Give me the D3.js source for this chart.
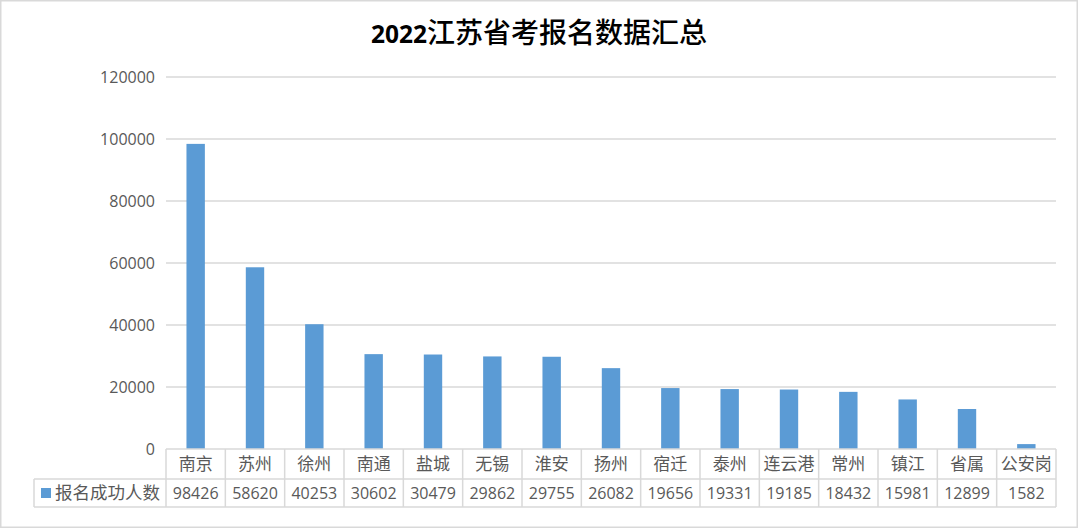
<!DOCTYPE html>
<html><head><meta charset="utf-8">
<script src="https://cdn.jsdelivr.net/npm/d3@7"></script>
<style>
html,body{margin:0;padding:0;background:#fff;}
svg{display:block;}
text{font-family:"Open Sans","Noto Sans CJK SC",sans-serif;}
</style></head>
<body><div id="chart"></div>
<script>
const categories = ["南京","苏州","徐州","南通","盐城","无锡","淮安","扬州","宿迁","泰州","连云港","常州","镇江","省属","公安岗"];
const values = [98426,58620,40253,30602,30479,29862,29755,26082,19656,19331,19185,18432,15981,12899,1582];
const yTicks = [0,20000,40000,60000,80000,100000,120000];
const seriesName = "报名成功人数";
const title = ["2022","江苏省考报名数据汇总"];

const W = 1080, H = 530;
const mLeft = 166, mRight = 1056, mTop = 77, mBottom = 449;
const grey = "#595959", lineC = "#d9d9d9", barC = "#5b9bd5";

const svg = d3.select("#chart").append("svg").attr("width", W).attr("height", H);

svg.append("rect").attr("x",0.75).attr("y",0.75).attr("width",1076.5).attr("height",526.5)
  .attr("fill","#fff").attr("stroke",lineC).attr("stroke-width",1.5);

const t = svg.append("text").attr("x",539).attr("y",43).attr("text-anchor","middle").attr("fill","#000");
t.append("tspan").attr("font-size",24.5).attr("font-weight",700).text(title[0]);
t.append("tspan").attr("font-size",28).attr("font-weight",500).attr("font-family","Noto Sans CJK SC").text(title[1]);

const x = d3.scaleBand().domain(categories).range([mLeft,mRight]).padding(0);
const y = d3.scaleLinear().domain([0,120000]).range([mBottom,mTop]);

// gridlines
svg.append("g").selectAll("line").data(yTicks.slice(1)).join("line")
  .attr("x1",mLeft).attr("x2",mRight).attr("y1",d=>y(d)).attr("y2",d=>y(d))
  .attr("stroke",lineC).attr("stroke-width",1.5);

// y axis labels
const yAxis = d3.axisLeft(y).tickValues(yTicks).tickSize(0).tickPadding(11).tickFormat(d3.format("d"));
const ga = svg.append("g").attr("transform",`translate(${mLeft},0)`).call(yAxis);
ga.select(".domain").remove();
ga.selectAll("text").attr("font-size",16).attr("fill",grey).attr("font-family","Open Sans");

// bars
const bw = x.bandwidth()*0.31;
svg.append("g").selectAll("rect").data(values).join("rect")
  .attr("x",(d,i)=>x(categories[i])+x.bandwidth()/2-bw/2)
  .attr("width",bw)
  .attr("y",d=>y(d)).attr("height",d=>y(0)-y(d))
  .attr("fill",barC);

// data table
const rowTop = mBottom, rowMid = 479, rowBot = 507, legLeft = 34;
const tg = svg.append("g").attr("stroke",lineC).attr("stroke-width",1.5).attr("fill","none");
tg.append("line").attr("x1",mLeft).attr("x2",mRight).attr("y1",rowTop).attr("y2",rowTop);
tg.append("line").attr("x1",legLeft).attr("x2",mRight).attr("y1",rowMid).attr("y2",rowMid);
tg.append("line").attr("x1",legLeft).attr("x2",mRight).attr("y1",rowBot).attr("y2",rowBot);
tg.append("line").attr("x1",legLeft).attr("x2",legLeft).attr("y1",rowMid).attr("y2",rowBot);
tg.selectAll("line.v").data(categories.concat(["__end"])).join("line").attr("class","v")
  .attr("x1",(d,i)=>mLeft+i*x.step()).attr("x2",(d,i)=>mLeft+i*x.step())
  .attr("y1",rowTop).attr("y2",rowBot);

svg.append("g").selectAll("text").data(categories).join("text")
  .attr("x",d=>x(d)+x.bandwidth()/2).attr("y",(rowTop+rowMid)/2+6)
  .attr("text-anchor","middle").attr("font-size",17).attr("fill",grey)
  .attr("font-family","Noto Sans CJK SC").text(d=>d);

svg.append("g").selectAll("text").data(values).join("text")
  .attr("x",(d,i)=>x(categories[i])+x.bandwidth()/2).attr("y",(rowMid+rowBot)/2+6)
  .attr("text-anchor","middle").attr("font-size",16).attr("fill",grey)
  .attr("font-family","Open Sans").text(d=>d);

svg.append("rect").attr("x",41).attr("y",488).attr("width",10).attr("height",10).attr("fill",barC);
svg.append("text").attr("x",55).attr("y",(rowMid+rowBot)/2+6).attr("font-size",17.5)
  .attr("fill",grey).attr("font-family","Noto Sans CJK SC").text(seriesName);
</script></body></html>
